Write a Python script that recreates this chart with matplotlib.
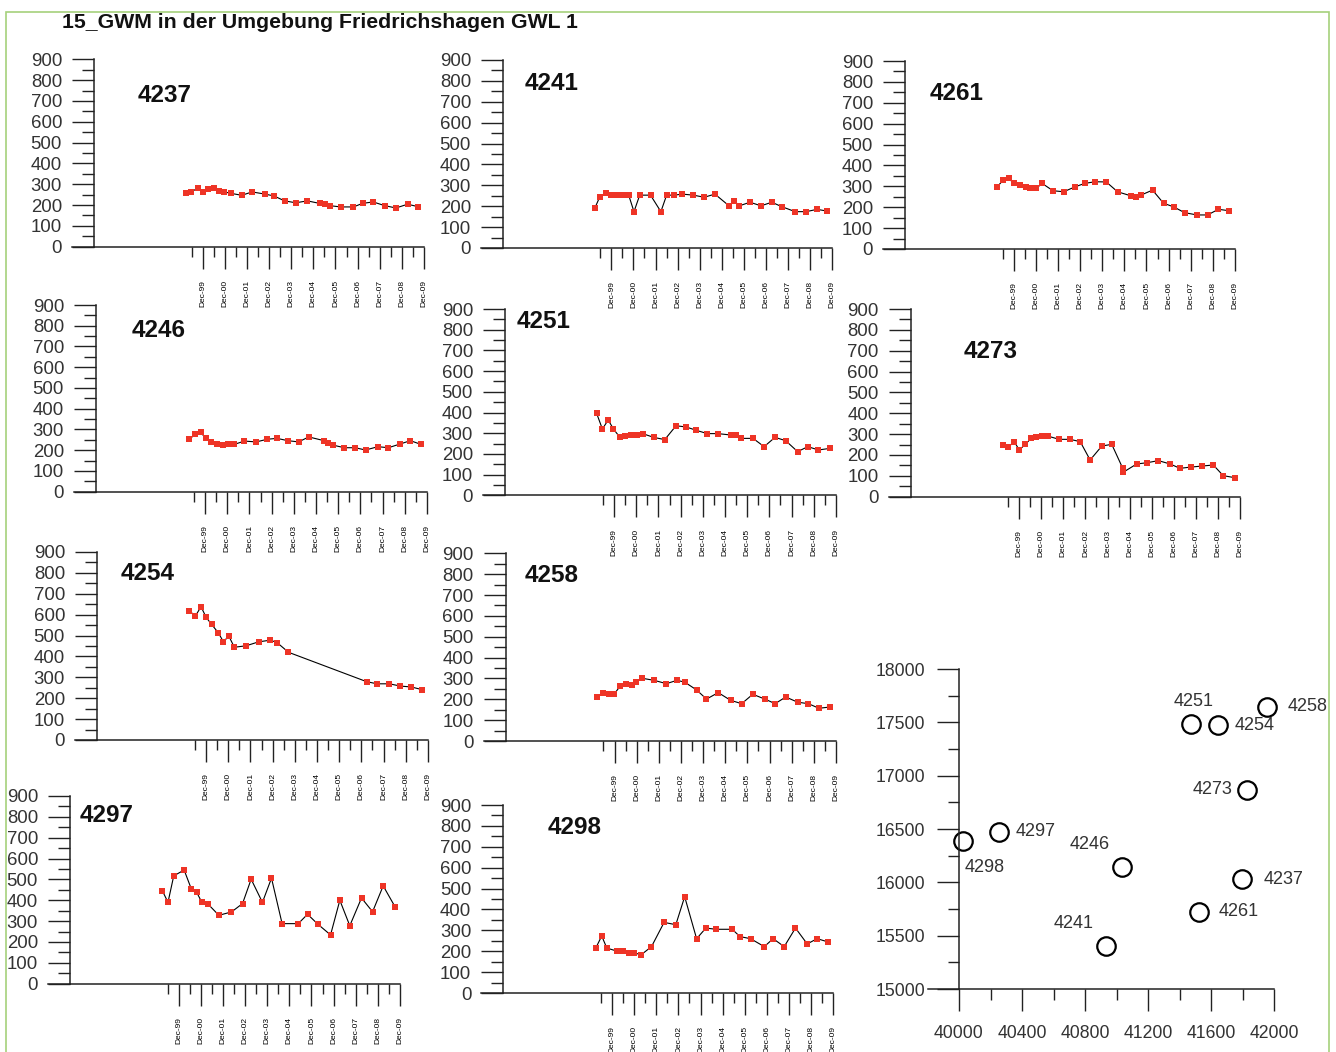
import matplotlib
matplotlib.use('Agg')
import matplotlib.pyplot as plt
from matplotlib.patches import Rectangle
from matplotlib.ticker import MultipleLocator, FixedLocator

plt.rcParams['font.family'] = ['Liberation Sans', 'DejaVu Sans']

# Grundwasserstand je Messstelle (Zeit in Dezimaljahren, Wert)
t_4237 = [1999.17, 1999.39, 1999.69, 1999.92, 2000.17, 2000.42, 2000.67, 2000.90, 2001.20, 2001.68,
          2002.15, 2002.71, 2003.13, 2003.62, 2004.12, 2004.65, 2005.20, 2005.46, 2005.67, 2006.15,
          2006.73, 2007.14, 2007.62, 2008.15, 2008.65, 2009.18, 2009.66]
h_4237 = [256, 264, 280, 264, 276, 280, 269, 263, 256, 247, 263, 253, 244, 220, 211, 220, 208, 204,
          197, 191, 191, 208, 215, 197, 186, 204, 192]

t_4241 = [1999.16, 1999.39, 1999.69, 1999.92, 2000.12, 2000.32, 2000.52, 2000.70, 2000.94, 2001.20,
          2001.69, 2002.16, 2002.42, 2002.75, 2003.14, 2003.63, 2004.13, 2004.61, 2005.25, 2005.49,
          2005.72, 2006.20, 2006.70, 2007.19, 2007.64, 2008.25, 2008.75, 2009.24, 2009.69]
h_4241 = [190, 245, 265, 253, 253, 253, 253, 253, 174, 253, 253, 174, 253, 253, 258, 253, 243, 258,
          202, 225, 202, 219, 202, 219, 198, 174, 174, 185, 177]

t_4261 = [1999.17, 1999.44, 1999.69, 1999.92, 2000.22, 2000.45, 2000.67, 2000.93, 2001.20, 2001.69,
          2002.17, 2002.70, 2003.12, 2003.60, 2004.10, 2004.61, 2005.23, 2005.46, 2005.67, 2006.19,
          2006.69, 2007.14, 2007.64, 2008.20, 2008.68, 2009.17, 2009.67]
h_4261 = [298, 330, 338, 314, 306, 298, 290, 290, 314, 279, 274, 298, 314, 322, 321, 274, 254, 247,
          258, 282, 219, 202, 174, 163, 163, 190, 183]

t_4246 = [1999.21, 1999.47, 1999.72, 1999.95, 2000.19, 2000.45, 2000.72, 2000.97, 2001.23, 2001.69,
          2002.22, 2002.73, 2003.16, 2003.65, 2004.13, 2004.59, 2005.28, 2005.48, 2005.70, 2006.20,
          2006.68, 2007.15, 2007.71, 2008.18, 2008.71, 2009.17, 2009.65]
h_4246 = [253, 277, 286, 257, 240, 230, 224, 230, 228, 244, 240, 253, 257, 246, 240, 264, 246, 236,
          224, 212, 212, 201, 217, 212, 230, 246, 228]

t_4251 = [1999.13, 1999.39, 1999.65, 1999.89, 2000.18, 2000.42, 2000.70, 2000.95, 2001.20, 2001.70,
          2002.20, 2002.71, 2003.17, 2003.62, 2004.12, 2004.60, 2005.20, 2005.43, 2005.66, 2006.18,
          2006.68, 2007.17, 2007.65, 2008.19, 2008.65, 2009.13, 2009.67]
h_4251 = [396, 320, 364, 320, 280, 286, 291, 291, 298, 280, 269, 336, 330, 314, 298, 298, 291, 291,
          275, 275, 235, 280, 264, 211, 235, 219, 227]

t_4273 = [1999.16, 1999.42, 1999.69, 1999.92, 2000.19, 2000.46, 2000.69, 2000.94, 2001.20, 2001.73,
          2002.22, 2002.68, 2003.13, 2003.66, 2004.11, 2004.60, 2004.64, 2005.24, 2005.72, 2006.22,
          2006.75, 2007.20, 2007.69, 2008.21, 2008.71, 2009.16, 2009.69]
h_4273 = [247, 238, 264, 224, 251, 280, 286, 291, 291, 275, 275, 264, 176, 243, 251, 138, 118, 157,
          163, 173, 157, 136, 142, 147, 152, 101, 91]

t_4254 = [1999.16, 1999.43, 1999.69, 1999.92, 2000.17, 2000.47, 2000.70, 2000.94, 2001.19, 2001.72,
          2002.29, 2002.82, 2003.12, 2003.63, 2007.16, 2007.63, 2008.18, 2008.68, 2009.16, 2009.66]
h_4254 = [619, 593, 638, 587, 553, 513, 470, 498, 444, 451, 470, 478, 466, 420, 279, 269, 269, 258,
          254, 241]

t_4258 = [1999.13, 1999.39, 1999.65, 1999.89, 2000.18, 2000.42, 2000.70, 2000.90, 2001.15, 2001.70,
          2002.26, 2002.74, 2003.09, 2003.62, 2004.07, 2004.60, 2005.16, 2005.66, 2006.16, 2006.73,
          2007.17, 2007.65, 2008.19, 2008.67, 2009.15, 2009.66]
h_4258 = [212, 232, 224, 224, 264, 275, 269, 282, 301, 291, 275, 291, 282, 245, 201, 232, 195, 179,
          224, 200, 179, 211, 186, 179, 157, 163]

t_4297 = [1999.18, 1999.43, 1999.69, 2000.16, 2000.49, 2000.73, 2000.96, 2001.22, 2001.73, 2002.30,
          2002.80, 2003.19, 2003.70, 2004.11, 2004.59, 2005.32, 2005.74, 2006.21, 2006.78, 2007.20,
          2007.65, 2008.18, 2008.68, 2009.16, 2009.70]
h_4297 = [445, 390, 517, 545, 453, 438, 390, 384, 328, 344, 384, 501, 390, 506, 288, 288, 333, 285,
          234, 400, 278, 411, 345, 469, 368]

t_4298 = [1999.18, 1999.45, 1999.68, 2000.16, 2000.41, 2000.69, 2000.93, 2001.22, 2001.70, 2002.27,
          2002.80, 2003.20, 2003.74, 2004.16, 2004.61, 2005.35, 2005.70, 2006.18, 2006.80, 2007.20,
          2007.70, 2008.21, 2008.74, 2009.19, 2009.70]
h_4298 = [215, 273, 215, 200, 200, 193, 193, 182, 222, 338, 327, 461, 260, 311, 305, 305, 270, 260,
          222, 260, 222, 311, 235, 260, 244]

# Lage der Messstellen (Rechtswert, Hochwert)
well_ids = ['4298', '4297', '4246', '4241', '4261', '4237', '4273', '4251', '4254', '4258']
east = [40027, 40256, 41036, 40932, 41524, 41793, 41829, 41471, 41645, 41951]
north = [16388, 16472, 16147, 15406, 15725, 16028, 16866, 17484, 17475, 17647]

tick_years = list(range(1999, 2010))
tick_labels = ['Dec-%02d' % (y % 100) for y in tick_years]

W, H = 1336, 1052
RED = '#ee3426'
AX = '#222222'
TXT = '#333333'

fig = plt.figure(figsize=(W / 100, H / 100), dpi=100)
fig.patch.set_facecolor('white')


def px_axes(left, right, top, bottom):
    a = fig.add_axes([left / W, 1 - bottom / H, (right - left) / W, (bottom - top) / H])
    a.patch.set_visible(False)  # keine weisse Flaeche ueber den Beschriftungen darueber
    return a


def well_panel(name, t, h, box, title_xy):
    ax = px_axes(*box)
    ax.plot(t, h, color='black', lw=0.8, marker='s', ms=5, mfc=RED, mec=RED, mew=0,
            clip_on=False)
    ax.set_xlim(1995.0, 2009.92)
    ax.set_ylim(0, 900)
    for s in ('top', 'right'):
        ax.spines[s].set_visible(False)
    for s in ('left', 'bottom'):
        ax.spines[s].set_color(AX)
        ax.spines[s].set_linewidth(1.1)
    # Achsenlinie links ueber die y-Achse hinaus verlaengern
    ax.plot([-0.067, 0], [0, 0], transform=ax.transAxes, clip_on=False, color=AX, lw=1.1)

    ax.yaxis.set_major_locator(MultipleLocator(100))
    ax.yaxis.set_minor_locator(MultipleLocator(50))
    ax.tick_params(axis='y', which='major', length=16, width=1, color=AX, pad=7,
                   labelsize=13.4, labelcolor=TXT)
    ax.tick_params(axis='y', which='minor', length=9, width=1, color=AX)

    ax.xaxis.set_major_locator(FixedLocator([y + 11 / 12 for y in tick_years]))
    ax.xaxis.set_minor_locator(FixedLocator([y + 5 / 12 for y in tick_years]))
    ax.set_xticklabels(tick_labels, rotation=90, fontsize=6)
    ax.tick_params(axis='x', which='major', length=16, width=1, color=AX, pad=8)
    ax.tick_params(axis='x', which='minor', length=7.5, width=1, color=AX)

    fig.text(title_xy[0] / W, 1 - title_xy[1] / H, name, fontsize=17.5, fontweight='bold',
             ha='left', va='center', color='#111111')
    return ax


well_panel('4237', t_4237, h_4237, (94, 424, 59.3, 246.7), (138, 96))
well_panel('4241', t_4241, h_4241, (503, 832, 60, 248), (525, 83))
well_panel('4261', t_4261, h_4261, (905, 1235, 61, 249), (930, 93))
well_panel('4246', t_4246, h_4246, (96, 427, 305, 491.7), (132, 330))
well_panel('4251', t_4251, h_4251, (505, 836, 309, 495.3), (517, 321))
well_panel('4273', t_4273, h_4273, (910.7, 1240, 309, 496.7), (964, 352))
well_panel('4254', t_4254, h_4254, (97, 428, 552, 740), (121, 573))
well_panel('4258', t_4258, h_4258, (505.7, 836, 553.3, 741), (525, 575))
well_panel('4297', t_4297, h_4297, (70, 400, 796, 983.7), (80, 816))
well_panel('4298', t_4298, h_4298, (503.3, 833.3, 805, 993), (548, 828))

# Lageplan der Messstellen
ax = px_axes(959, 1274.3, 669, 989)
ax.plot(east, north, linestyle='none', marker='o', ms=13.3, mfc='none', mec='black', mew=1.6,
        clip_on=False)
ax.set_xlim(40000, 42000)
ax.set_ylim(15000, 18000)
for s in ('top', 'right'):
    ax.spines[s].set_visible(False)
for s in ('left', 'bottom'):
    ax.spines[s].set_color(AX)
    ax.spines[s].set_linewidth(1.1)
ax.plot([-0.098, 0], [0, 0], transform=ax.transAxes, clip_on=False, color=AX, lw=1.1)
ax.xaxis.set_major_locator(MultipleLocator(400))
ax.xaxis.set_minor_locator(MultipleLocator(200))
ax.yaxis.set_major_locator(MultipleLocator(500))
ax.yaxis.set_minor_locator(MultipleLocator(250))
ax.tick_params(which='major', length=16, width=1, color=AX, labelsize=12.7, labelcolor=TXT)
ax.tick_params(axis='x', which='major', pad=10)
ax.tick_params(axis='y', which='major', pad=8.5)
ax.tick_params(which='minor', length=8, width=1, color=AX)

label_pos = {
    '4251': (2, 16, 'center'), '4254': (11.5, 0, 'left'), '4258': (15, 0, 'left'),
    '4273': (-11, 0, 'right'), '4297': (12, 0, 'left'), '4298': (1, -19, 'left'),
    '4246': (-9, 16, 'right'), '4237': (16, 0, 'left'), '4261': (14, 0, 'left'),
    '4241': (-9, 16, 'right'),
}
for name, x, y in zip(well_ids, east, north):
    dx, dy, ha = label_pos[name]
    ax.annotate(name, (x, y), xytext=(dx, dy), textcoords='offset points', ha=ha,
                va='center', fontsize=13, color=TXT, annotation_clip=False)

fig.text(62 / W, 1 - 22 / H, '15_GWM in der Umgebung Friedrichshagen GWL 1', fontsize=15.3,
         fontweight='bold', ha='left', va='center', color='#111111')

fig.patches.append(Rectangle((6 / W, -0.01), 1323 / W, 1.01 - 12 / H, transform=fig.transFigure,
                             fill=False, edgecolor='#a6d17c', lw=1.2))

fig.savefig('out.png', dpi=100)
